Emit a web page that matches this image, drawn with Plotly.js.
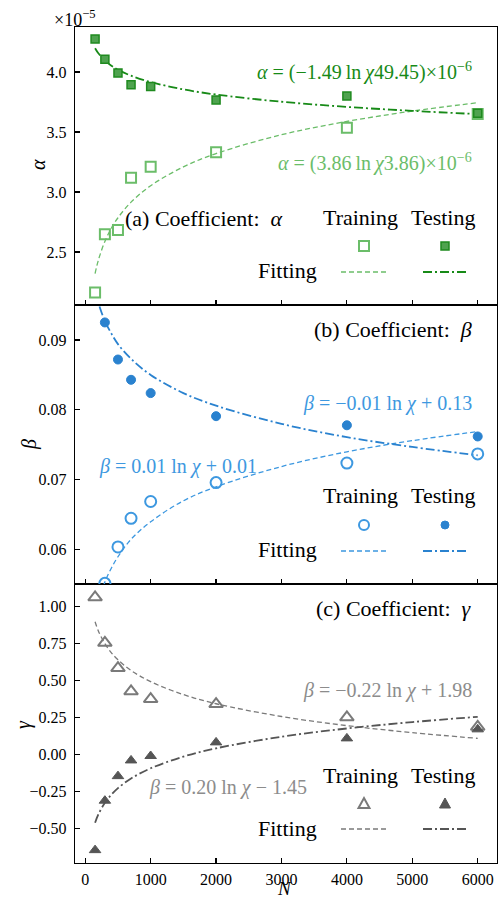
<!DOCTYPE html>
<html>
<head>
<meta charset="utf-8">
<script src="https://cdn.plot.ly/plotly-3.0.1.min.js"></script>
<style>html,body{margin:0;padding:0;background:#fff;}#chart{width:501px;height:901px;}</style>
</head>
<body>
<div id="chart"></div>
<script>
// ---- data ----
const N = [150, 300, 500, 700, 1000, 2000, 4000, 6000];
const alphaTrain = [2.161, 2.647, 2.683, 3.119, 3.211, 3.331, 3.536, 3.650]; // x1e-5
const alphaTest  = [4.275, 4.106, 3.992, 3.894, 3.878, 3.767, 3.800, 3.656]; // x1e-5
const betaN = [300, 500, 700, 1000, 2000, 4000, 6000];
const betaTrain = [0.0552, 0.0604, 0.0645, 0.0669, 0.0696, 0.0724, 0.0737];
const betaTest  = [0.0925, 0.0872, 0.0843, 0.0824, 0.0791, 0.0778, 0.0762];
const gammaTrain = [1.061, 0.754, 0.583, 0.426, 0.374, 0.340, 0.250, 0.186];
const gammaTest  = [-0.647, -0.313, -0.147, -0.041, -0.011, 0.081, 0.108, 0.169];

const fitN = [150, 200, 300, 400, 500, 700, 1000, 1500, 2000, 3000, 4000, 5000, 6000];
const alphaTrainFit = [2.320, 2.431, 2.588, 2.699, 2.785, 2.915, 3.052, 3.209, 3.320, 3.477, 3.588, 3.674, 3.744];
const alphaTestFit  = [4.198, 4.156, 4.095, 4.052, 4.019, 3.969, 3.916, 3.855, 3.812, 3.752, 3.709, 3.676, 3.649];
const betaTrainFit = [0.0504, 0.0524, 0.0554, 0.0574, 0.0590, 0.0615, 0.0640, 0.0670, 0.0690, 0.0719, 0.0740, 0.0756, 0.0769];
const betaTestFit  = [0.0971, 0.0953, 0.0927, 0.0909, 0.0894, 0.0873, 0.0850, 0.0824, 0.0806, 0.0780, 0.0761, 0.0747, 0.0735];
const gammaTrainFit = [0.896, 0.834, 0.748, 0.686, 0.639, 0.567, 0.491, 0.404, 0.342, 0.256, 0.194, 0.147, 0.108];
const gammaTestFit  = [-0.462, -0.406, -0.327, -0.272, -0.228, -0.163, -0.094, -0.015, 0.041, 0.119, 0.175, 0.218, 0.254];

const xTickVals = [0, 1000, 2000, 3000, 4000, 5000, 6000];
const xTickText = ['0', '1000', '2000', '3000', '4000', '5000', '6000'];
const aTickVals = [2.5, 3.0, 3.5, 4.0];
const aTickText = ['2.5', '3.0', '3.5', '4.0'];
const bTickVals = [0.06, 0.07, 0.08, 0.09];
const bTickText = ['0.06', '0.07', '0.08', '0.09'];
const cTickVals = [-0.5, -0.25, 0, 0.25, 0.5, 0.75, 1.0];
const cTickText = ['\u22120.50', '\u22120.25', '0.00', '0.25', '0.50', '0.75', '1.00'];

// ---- styles ----
const FONT = 'Liberation Serif';
const C = {
  aTrain: '#6bbd69', aTestEdge: '#1f8a1f', aTestFill: '#4fa34f', aTestLine: '#178a17',
  bTrain: '#3d98e0', bTest: '#2a82cf',
  cTrain: '#7a7a7a', cTest: '#555555'
};
const DASH = '5px,3px';
const DASHDOT = '9px,3px,2px,3px';

function fit(y, xa, ya, color, dash, w) {
  return {x: fitN, y: y, xaxis: xa, yaxis: ya, type: 'scatter', mode: 'lines',
    line: {color: color, dash: dash, width: w, shape: 'spline'}, hoverinfo: 'skip', showlegend: false};
}
function pts(x, y, xa, ya, marker) {
  return {x: x, y: y, xaxis: xa, yaxis: ya, type: 'scatter', mode: 'markers', marker: marker, showlegend: false};
}

const traces = [
  fit(alphaTrainFit, 'x3', 'y3', C.aTrain, DASH, 1.3),
  fit(alphaTestFit, 'x3', 'y3', C.aTestLine, DASHDOT, 1.8),
  pts(N, alphaTrain, 'x3', 'y3', {symbol: 'square-open', size: 10, color: C.aTrain, line: {color: C.aTrain, width: 2}}),
  pts(N, alphaTest, 'x3', 'y3', {symbol: 'square', size: 8, color: C.aTestFill, line: {color: C.aTestEdge, width: 1.5}}),
  fit(betaTrainFit, 'x2', 'y2', C.bTrain, DASH, 1.3),
  fit(betaTestFit, 'x2', 'y2', C.bTest, DASHDOT, 1.8),
  pts(betaN, betaTrain, 'x2', 'y2', {symbol: 'circle-open', size: 11, color: C.bTrain, line: {color: C.bTrain, width: 2}}),
  pts(betaN, betaTest, 'x2', 'y2', {symbol: 'circle', size: 9, color: C.bTest, line: {color: C.bTest, width: 1}}),
  fit(gammaTrainFit, 'x', 'y', C.cTrain, DASH, 1.3),
  fit(gammaTestFit, 'x', 'y', C.cTest, DASHDOT, 1.8),
  pts(N, gammaTrain, 'x', 'y', {symbol: 'triangle-up-open', size: 12, color: C.cTrain, line: {color: C.cTrain, width: 2}}),
  pts(N, gammaTest, 'x', 'y', {symbol: 'triangle-up', size: 10, color: C.cTest, line: {color: C.cTest, width: 1}})
];

// ---- layout ----
const W = 501, H = 901, ML = 75, MR = 4, MT = 27, MB = 38;
const PW = W - ML - MR, PH = H - MT - MB;
function px(x) { return (x - ML) / PW; }
function py(y) { return (H - MB - y) / PH; }

const axBase = {
  showline: true, mirror: true, linecolor: '#000', linewidth: 1.3,
  ticks: 'inside', ticklen: 5, tickwidth: 1.2, tickcolor: '#000',
  showgrid: false, zeroline: false,
  tickfont: {family: FONT, size: 16, color: '#000'}
};
const xRange = [-157, 6295];
function xax(anchor, labels) {
  return Object.assign({}, axBase, {range: xRange, anchor: anchor, tickvals: xTickVals, ticktext: xTickText,
    showticklabels: labels, ticklabelstandoff: 1});
}
function yax(domain, range, tv, tt) {
  return Object.assign({}, axBase, {domain: domain, range: range, tickvals: tv, ticktext: tt,
    ticklabelstandoff: 4});
}

const dA = [0.6675, 1], dB = [0.3337, 0.6675], dC = [0, 0.3337];

function ann(text, x, y, xanchor, color, size, angle, yanchor) {
  return {xref: 'paper', yref: 'paper', x: px(x), y: py(y), xanchor: xanchor, yanchor: yanchor || 'middle',
    text: text, showarrow: false, textangle: angle || 0, font: {family: FONT, size: size, color: color}};
}
const SP = '\u2009';
const LBL = 22;
const annotations = [
  ann('\u00d710<sup>\u22125</sup>', 52, 19, 'left', '#000', 18),
  // axis titles
  ann('<i>\u03b1</i>', 38, 165, 'center', '#000', 20, -90),
  ann('<i>\u03b2</i>', 29, 445, 'center', '#000', 20, -90),
  ann('<i>\u03b3</i>', 23, 725, 'center', '#000', 20, -90),
  ann('<i>N</i>', 284, 901, 'center', '#000', 19, 0, 'bottom'),
  // (a)
  ann('<i>\u03b1</i> = (\u22121.49' + SP + 'ln' + SP + '<i>\u03c7</i>49.45)\u00d710<sup>\u22126</sup>', 474, 72, 'right', C.aTestLine, 20),
  ann('<i>\u03b1</i> = (3.86' + SP + 'ln' + SP + '<i>\u03c7</i>3.86)\u00d710<sup>\u22126</sup>', 474, 163, 'right', C.aTrain, 20),
  ann('(a) Coefficient:\u00a0\u00a0<i>\u03b1</i>', 123, 218, 'left', '#000', LBL),
  ann('Training', 360, 217, 'center', '#000', LBL),
  ann('Testing', 443, 217, 'center', '#000', LBL),
  ann('Fitting', 287, 270, 'center', '#000', LBL),
  // (b)
  ann('(b) Coefficient:\u00a0\u00a0<i>\u03b2</i>', 474, 329, 'right', '#000', LBL),
  ann('<i>\u03b2</i> = \u22120.01 ln <i>\u03c7</i> + 0.13', 474, 403, 'right', C.bTrain, 20),
  ann('<i>\u03b2</i> = 0.01 ln <i>\u03c7</i> + 0.01', 97, 466, 'left', C.bTrain, 20),
  ann('Training', 360, 496, 'center', '#000', LBL),
  ann('Testing', 443, 496, 'center', '#000', LBL),
  ann('Fitting', 287, 549, 'center', '#000', LBL),
  // (c)
  ann('(c) Coefficient:\u00a0\u00a0<i>\u03b3</i>', 474, 608, 'right', '#000', LBL),
  ann('<i>\u03b2</i> = \u22120.22 ln <i>\u03c7</i> + 1.98', 474, 690, 'right', '#8c8c8c', 20),
  ann('<i>\u03b2</i> = 0.20 ln <i>\u03c7</i> \u2212 1.45', 147, 787, 'left', '#8c8c8c', 20),
  ann('Training', 360, 775, 'center', '#000', LBL),
  ann('Testing', 443, 775, 'center', '#000', LBL),
  ann('Fitting', 287, 828, 'center', '#000', LBL)
];

function mshape(type, x, y, half, line, fill) {
  return {type: type, xref: 'paper', yref: 'paper', xsizemode: 'pixel', ysizemode: 'pixel',
    xanchor: px(x), yanchor: py(y), x0: -half, x1: half, y0: -half, y1: half,
    line: line, fillcolor: fill};
}
function tri(x, y, line, fill) {
  return {type: 'path', xref: 'paper', yref: 'paper', xsizemode: 'pixel', ysizemode: 'pixel',
    xanchor: px(x), yanchor: py(y), path: 'M-5.5,-4 L5.5,-4 L0,6 Z', line: line, fillcolor: fill};
}
function lshape(x0, x1, y, color, dash, w) {
  return {type: 'line', xref: 'paper', yref: 'paper', x0: px(x0), x1: px(x1), y0: py(y), y1: py(y),
    line: {color: color, dash: dash, width: w}};
}

const shapes = [
  mshape('rect', 364, 246, 5, {color: C.aTrain, width: 2}, 'rgba(0,0,0,0)'),
  mshape('rect', 445, 246, 4, {color: C.aTestEdge, width: 1.5}, C.aTestFill),
  lshape(341, 386, 272, C.aTrain, DASH, 1.3),
  lshape(423, 467, 272, C.aTestLine, DASHDOT, 1.8),
  mshape('circle', 364, 525, 5, {color: C.bTrain, width: 2}, 'rgba(0,0,0,0)'),
  mshape('circle', 445, 525, 4, {color: C.bTest, width: 1}, C.bTest),
  lshape(341, 386, 551, C.bTrain, DASH, 1.3),
  lshape(423, 467, 551, C.bTest, DASHDOT, 1.8),
  tri(364, 804, {color: C.cTrain, width: 2}, 'rgba(0,0,0,0)'),
  tri(445, 804, {color: C.cTest, width: 1}, C.cTest),
  lshape(341, 386, 829, C.cTrain, DASH, 1.3),
  lshape(423, 467, 829, C.cTest, DASHDOT, 1.8)
];

const layout = {
  width: W, height: H,
  margin: {l: ML, r: MR, t: MT, b: MB},
  paper_bgcolor: '#fff', plot_bgcolor: '#fff',
  showlegend: false,
  font: {family: FONT, color: '#000'},
  xaxis: xax('y', true),
  xaxis2: xax('y2', false),
  xaxis3: xax('y3', false),
  yaxis: yax(dC, [-0.734, 1.151], cTickVals, cTickText),
  yaxis2: yax(dB, [0.0551, 0.095], bTickVals, bTickText),
  yaxis3: yax(dA, [2.058, 4.375], aTickVals, aTickText),
  annotations: annotations,
  shapes: shapes
};

Plotly.newPlot('chart', traces, layout, {staticPlot: true, displayModeBar: false});
</script>
</body>
</html>
